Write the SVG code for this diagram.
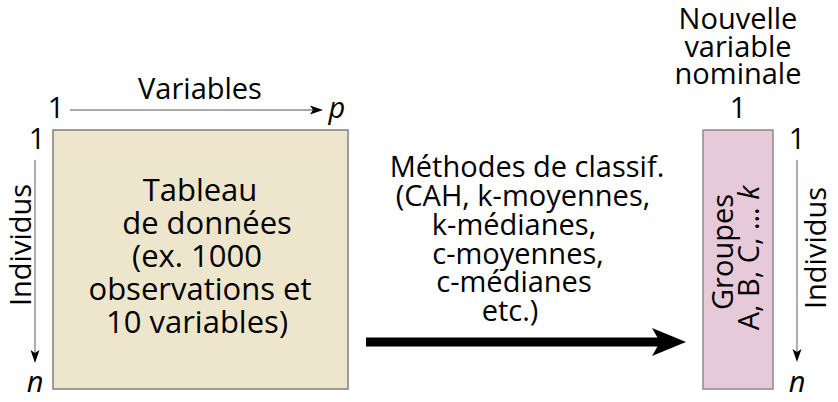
<svg xmlns="http://www.w3.org/2000/svg" width="838" height="402" viewBox="0 0 838 402">
<style>
text{font-family:"Open Sans","Noto Sans","DejaVu Sans",sans-serif;fill:#000;font-size:29px}
.m{text-anchor:middle}
.big{font-size:31px}
.i{font-style:italic}
.thin{stroke:#8c8c8c;stroke-width:1.4;fill:none}
</style>
<rect width="838" height="402" fill="#fff"/>
<g id="tableau">
<rect x="53" y="130" width="295" height="259" fill="#ede6cd" stroke="#7f7f7f" stroke-width="1.5"/>
<text class="m big" x="200" y="201">Tableau</text>
<text class="m big" x="207" y="234">de données</text>
<text class="m big" x="197" y="267">(ex. 1000</text>
<text class="m big" x="200" y="300">observations et</text>
<text class="m big" x="197" y="333">10 variables)</text>
</g>
<g id="axes-left">
<text class="m" x="200" y="99">Variables</text>
<text class="m" x="56" y="118">1</text>
<text class="m i" x="337" y="118">p</text>
<text class="m" x="37" y="149">1</text>
<text class="m i" x="35" y="392">n</text>
<text class="m" transform="translate(31,245) rotate(-90)">Individus</text>
</g>
<g id="groupes">
<rect x="703" y="130" width="70" height="259" fill="#e6cad9" stroke="#8a8a8a" stroke-width="1.5"/>
<text class="m" transform="translate(733,252) rotate(-90)">Groupes</text>
<text class="m" transform="translate(759,258) rotate(-90)">A, B, C, … <tspan class="i">k</tspan></text>
</g>
<g id="axes-right">
<text class="m" x="738" y="29">Nouvelle</text>
<text class="m" x="738" y="57">variable</text>
<text class="m" x="738" y="84">nominale</text>
<text class="m" x="738" y="118">1</text>
<text class="m" x="797" y="149">1</text>
<text class="m i" x="797" y="392">n</text>
<text class="m" transform="translate(826,248) rotate(-90)">Individus</text>
</g>
<g id="methodes">
<text class="m" x="527" y="177">Méthodes de classif.</text>
<text class="m" x="523" y="206">(CAH, k-moyennes,</text>
<text class="m" x="514" y="235">k-médianes,</text>
<text class="m" x="518" y="264">c-moyennes,</text>
<text class="m" x="514" y="292">c-médianes</text>
<text class="m" x="510" y="321">etc.)</text>
</g>
<g id="connectors">
<line class="thin" x1="70" y1="110" x2="314" y2="110"/>
<polygon points="310,105.5 323,110 310,114.5 313,110" fill="#000"/>
<line class="thin" x1="35" y1="160" x2="35" y2="354"/>
<polygon points="30.5,350 35,363 39.5,350 35,353" fill="#000"/>
<line class="thin" x1="797" y1="160" x2="797" y2="353"/>
<polygon points="792.5,349 797,362 801.5,349 797,352" fill="#000"/>
<line x1="366" y1="342" x2="662" y2="342" stroke="#000" stroke-width="9"/>
<polygon points="652,328 686,342 652,356 660,342" fill="#000"/>
</g>
</svg>
